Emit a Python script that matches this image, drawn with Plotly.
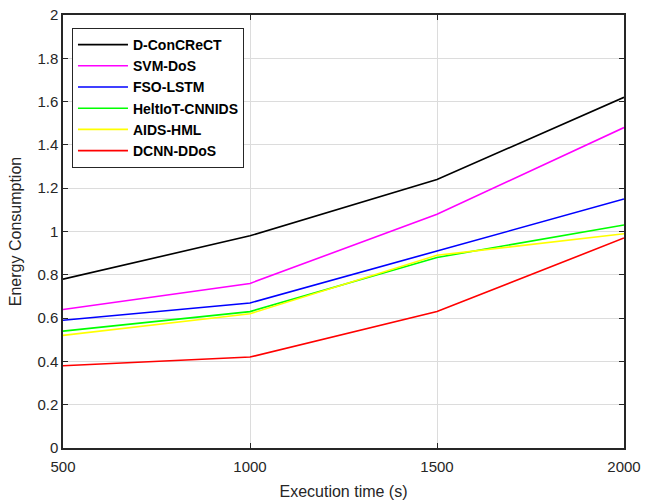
import plotly.graph_objects as go

x_vals = [500, 1000, 1500, 2000]
series_names = ["D-ConCReCT", "SVM-DoS", "FSO-LSTM", "HeltIoT-CNNIDS", "AIDS-HML", "DCNN-DDoS"]
d_concrect = [0.78, 0.98, 1.24, 1.62]
svm_dos = [0.64, 0.76, 1.08, 1.48]
fso_lstm = [0.59, 0.67, 0.91, 1.15]
heltiot = [0.54, 0.63, 0.88, 1.03]
aids_hml = [0.52, 0.62, 0.89, 0.99]
dcnn_ddos = [0.38, 0.42, 0.63, 0.97]
colors = ["#000000", "#FF00FF", "#0000FF", "#00FF00", "#FFFF00", "#FF0000"]
x_ticks = [500, 1000, 1500, 2000]
y_ticks = [0, 0.2, 0.4, 0.6, 0.8, 1, 1.2, 1.4, 1.6, 1.8, 2]

fig = go.Figure()
for name, ys, c in zip(series_names, [d_concrect, svm_dos, fso_lstm, heltiot, aids_hml, dcnn_ddos], colors):
    fig.add_trace(go.Scatter(x=x_vals, y=ys, mode="lines", name=name,
                             line=dict(color=c, width=1.6)))

font_fam = "Liberation Sans, Arial"
axis_common = dict(showline=True, linecolor="#262626", linewidth=1.5, mirror="ticks",
                   ticks="inside", ticklen=5, tickcolor="#262626", tickwidth=1,
                   showgrid=True, gridcolor="#DCDCDC", gridwidth=1, zeroline=False,
                   automargin=False, ticklabeloverflow="allow",
                   tickfont=dict(family=font_fam, size=15, color="#262626"))

fig.update_xaxes(range=[500, 2000], tickvals=x_ticks, ticklabelstandoff=4,
                 title=dict(text="Execution time (s)", font=dict(family=font_fam, size=16, color="#262626"), standoff=12),
                 **axis_common)
fig.update_yaxes(range=[0, 2], tickvals=y_ticks, ticktext=[("%g" % v) for v in y_ticks],
                 title=dict(text="Energy Consumption", font=dict(family=font_fam, size=16, color="#262626"), standoff=12),
                 **axis_common)

fig.update_layout(
    width=645, height=502,
    margin=dict(l=63, r=21, t=15, b=54),
    paper_bgcolor="white", plot_bgcolor="white",
    showlegend=True,
    legend=dict(x=0.016, y=0.97, xanchor="left", yanchor="top",
                bgcolor="white", bordercolor="#262626", borderwidth=1,
                font=dict(family=font_fam, size=14, color="#000000", weight="bold"),
                tracegroupgap=0, itemwidth=50),
)

fig.write_html("out.html", config={"displayModeBar": False},
               post_script="document.body.style.margin='0';document.body.style.overflow='hidden';")
